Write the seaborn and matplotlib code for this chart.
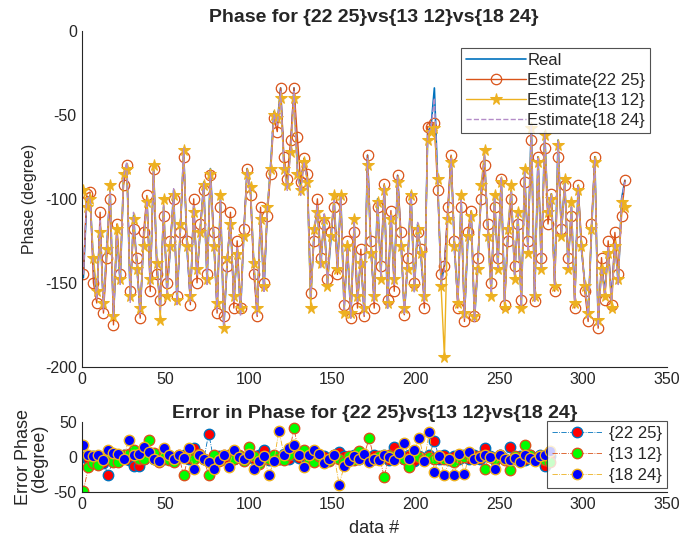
import numpy as np
import pandas as pd
import seaborn as sns
import matplotlib.pyplot as plt

# top panel: data index 1..325 (every other sample)
idx = list(range(1, 326, 2))

real = [-147, -101, -98, -140, -158, -115, -165, -128, -95, -172, -120, -150, -88, -79, -160, -110, -140, -168, -125, -100, -150, -83, -140, -165, -105, -155, -130, -95, -162, -118,
        -72, -130, -160, -105, -145, -118, -90, -150, -82, -125, -165, -100, -177, -138, -112, -160, -130, -168, -120, -82,
        -95, -140, -168, -110, -155, -108, -80, -48,
        -55, -34, -80, -90, -70, -34, -82, -92, -76, -88,
        -160, -120, -105, -140, -110, -150, -125, -100, -140, -98, -165, -130, -170, -115, -160, -135, -168, -74,
        -130, -160, -100, -145, -92, -165, -110, -150, -86, -125, -168, -140, -96, -155, -115, -135, -160, -60,
        -57, -34, -90, -150, -140, -110, -75, -130, -160, -100, -170, -125, -108, -172, -140, -95, -75,
        -120, -155, -100, -140, -88, -160, -120, -95, -145, -110, -163, -85, -130, -55, -160, -75, -140, -60, -110, -97, -150, -65, -120,
        -90, -140, -105, -160, -92, -130, -150, -170, -120, -75, -175, -140, -155, -130, -160, -125, -150, -100, -89]

est_22_25 = [-145, -97, -96, -150, -162, -108, -168, -135, -100, -175, -115, -145, -92, -80, -155, -118, -135, -171, -120, -98, -155, -82, -145, -160, -110, -150, -125, -100, -158, -120,
             -75, -125, -163, -100, -150, -115, -95, -145, -86, -120, -168, -105, -170, -140, -108, -165, -125, -165, -118, -82,
             -98, -145, -170, -105, -150, -110, -85, -52,
             -60, -34, -75, -88, -65, -34, -63, -90, -76, -85,
             -156, -125, -100, -135, -115, -148, -120, -105, -145, -100, -163, -125, -171, -120, -165, -130, -170, -74,
             -125, -165, -105, -140, -91, -160, -107, -155, -86, -120, -169, -135, -100, -150, -120, -130, -165, -57,
             -57, -55, -95, -145, -140, -105, -74, -125, -165, -105, -173, -120, -107, -170, -135, -100, -80,
             -115, -150, -105, -135, -88, -163, -125, -100, -140, -115, -160, -90, -125, -65, -161, -75, -135, -70, -115, -97, -155, -75, -118,
             -92, -135, -110, -165, -92, -125, -155, -173, -115, -75, -177, -135, -160, -125, -163, -120, -145, -110, -89]

est_13_12 = [-95, -105, -100, -135, -155, -120, -162, -130, -92, -170, -118, -148, -85, -82, -158, -112, -142, -165, -128, -102, -148, -80, -138, -172, -100, -158, -128, -98, -160, -115,
             -71, -128, -158, -108, -142, -120, -92, -148, -85, -128, -162, -98, -177, -135, -115, -158, -133, -165, -122, -85,
             -93, -138, -165, -112, -152, -105, -82, -50,
             -52, -40, -82, -92, -72, -40, -85, -95, -78, -90,
             -165, -118, -108, -138, -112, -152, -122, -98, -142, -98, -168, -128, -168, -112, -158, -138, -165, -80,
             -132, -158, -102, -148, -95, -162, -112, -148, -90, -128, -165, -142, -98, -152, -118, -132, -158, -65,
             -60, -58, -88, -152, -194, -112, -78, -128, -162, -98, -168, -122, -110, -170, -142, -92, -71,
             -122, -158, -98, -142, -90, -165, -118, -92, -148, -108, -165, -82, -132, -58, -158, -78, -142, -62, -108, -100, -152, -68, -122,
             -88, -142, -102, -162, -95, -128, -152, -168, -118, -78, -172, -142, -158, -132, -165, -128, -148, -102, -105]

est_18_24 = [-145, -100, -99, -142, -160, -113, -166, -126, -96, -170, -122, -151, -87, -78, -162, -108, -141, -169, -123, -101, -151, -84, -139, -166, -104, -156, -131, -94, -163, -117,
             -70, -131, -161, -104, -146, -117, -91, -151, -84, -124, -166, -101, -175, -137, -113, -161, -129, -170, -121, -83,
             -96, -141, -169, -109, -156, -107, -81, -50,
             -56, -36, -82, -95, -72, -36, -85, -98, -78, -90,
             -158, -121, -104, -141, -109, -151, -124, -101, -141, -99, -166, -129, -171, -114, -161, -134, -169, -76,
             -129, -161, -101, -146, -93, -166, -109, -151, -87, -124, -169, -139, -97, -156, -114, -136, -161, -61,
             -58, -40, -91, -151, -142, -109, -76, -131, -161, -101, -171, -124, -109, -173, -139, -96, -74,
             -121, -156, -99, -141, -87, -161, -119, -96, -146, -109, -164, -84, -131, -56, -161, -76, -141, -61, -109, -98, -151, -66, -121,
             -91, -141, -104, -161, -93, -131, -151, -171, -119, -76, -176, -141, -156, -129, -161, -126, -151, -101, -90]

# bottom panel: error samples
err_idx = list(range(1, 281, 3))

err_22_25 = [0, -3, 2, -2, -8, -26, 3, -2, 4, -4, -12, -12, -3, 2, -2, 4, -3, 2, -4, 2,
             3, -2, 13, 3, -3, 34, -4, 2, -2, 3, -3, 2, -4, 3, -2, 3, 10, -4, 2, -3,
             5, -2, 3, -1, 2, -3, 3, -2, 2, -4, 3, 8, 2, -3, 3, -2, 2, -3, 4, -2,
             3, -4, 15, 2, -3, 3, -5, 2, -3, 4, 23, -2, 3, -4, 2, -3, 3, -2, 4, -3,
             13, 2, -4, 3, -2, 15, -3, 2, -4, 3, -2, 3, -12, 2]

err_13_12 = [-48, -14, -8, -11, -3, 2, -6, -6, 3, 5, 10, -2, -2, 25, 6, -7, 2, -4, -7, 3,
             -26, 4, -2, 5, -3, -25, 4, -5, 3, 3, -2, 4, -5, 15, 2, -9, 0, -2, 4, -2,
             -4, 3, 42, 4, 10, -4, -7, 2, -7, -5, 3, -3, -6, 2, -4, 9, 4, 27, -3, 2,
             -28, 4, 2, 3, -3, -14, 2, 0, -3, 0, -2, 2, -2, -3, -6, 0, 0, 3, -2, 2,
             -16, 1, -2, 3, -4, -18, 2, -3, 17, 3, -2, 2, -4, -6]

err_18_24 = [18, 3, 2, 3, -4, 10, 6, 5, -3, 25, 4, 5, 15, 8, -2, -5, 13, 4, -3, 3,
             -1, 14, -17, 3, -2, -6, -16, -4, 3, -14, 10, 1, -2, 5, -17, -5, 2, -26, -5, 38,
             4, 13, 18, 3, -14, 4, 10, 5, -8, -3, 3, -39, -13, -5, 2, -2, 5, -7, -2, -4,
             3, 0, -4, 6, 20, -3, 10, 27, -5, 36, -21, 2, -26, -3, -25, 5, -24, 8, -2, 0,
             3, 0, -16, 4, -2, -4, -1, -6, 3, -1, -5, 2, 4, 9]

top = pd.DataFrame({"idx": idx, "real": real, "e1": est_22_25, "e2": est_13_12, "e3": est_18_24})
bot = pd.DataFrame({"idx": err_idx, "a": err_22_25, "b": err_13_12, "c": err_18_24})

sns.set_style("white")
plt.rcParams['font.family'] = ['Liberation Sans', 'DejaVu Sans']
plt.rcParams['axes.unicode_minus'] = False
plt.rcParams['xtick.direction'] = 'in'
plt.rcParams['ytick.direction'] = 'in'

fig = plt.figure(figsize=(6.81, 5.5), dpi=100)
ax1 = fig.add_axes([0.120, 0.333, 0.859, 0.611])
ax2 = fig.add_axes([0.120, 0.105, 0.859, 0.127])

blue, orange, yellow, purple = "#0072BD", "#D95319", "#EDB120", "#B48CC8"

sns.lineplot(data=top, x="idx", y="real", ax=ax1, color=blue, lw=1.2, estimator=None, label="Real")
sns.lineplot(data=top, x="idx", y="e1", ax=ax1, color=orange, lw=1.0, estimator=None, marker="o",
             markersize=7.5, markerfacecolor="none", markeredgecolor=orange, markeredgewidth=0.9,
             label="Estimate{22 25}")
sns.lineplot(data=top, x="idx", y="e2", ax=ax1, color=yellow, lw=1.0, estimator=None, marker="*",
             markersize=8.5, markeredgecolor=yellow, markerfacecolor=yellow, label="Estimate{13 12}")
sns.lineplot(data=top, x="idx", y="e3", ax=ax1, color=purple, lw=1.0, estimator=None, linestyle="--",
             label="Estimate{18 24}")

ax1.set_xlim(0, 350)
ax1.set_ylim(-200, 0)
ax1.set_xticks(range(0, 351, 50))
ax1.set_yticks(range(-200, 1, 50))
ax1.set_xlabel("")
ax1.set_ylabel("Phase (degree)", fontsize=11.5, labelpad=6)
ax1.set_title("Phase for {22 25}vs{13 12}vs{18 24}", fontsize=14, fontweight="bold", pad=6)
leg1 = ax1.legend(loc="upper right", bbox_to_anchor=(0.972, 0.95), fontsize=12, frameon=True,
                  fancybox=False, handlelength=3.6, handletextpad=0.1, borderpad=0.3,
                  labelspacing=0.3, borderaxespad=0)
leg1.get_frame().set_edgecolor("#262626")
leg1.get_frame().set_linewidth(0.8)

face = ["#FF0000", "#00FF00", "#0000FF"]
edge = [blue, orange, yellow]
labels = ["{22 25}", "{13 12}", "{18 24}"]
for col, fc, ec, lab in zip(["a", "b", "c"], face, edge, labels):
    sns.lineplot(data=bot, x="idx", y=col, ax=ax2, color=ec, lw=0.6, linestyle="-.", estimator=None,
                 marker="o", markersize=7.5, markerfacecolor=fc, markeredgecolor=ec, markeredgewidth=1.0,
                 label=lab)

ax2.set_xlim(0, 350)
ax2.set_ylim(-50, 50)
ax2.set_xticks(range(0, 351, 50))
ax2.set_yticks([-50, 0, 50])
ax2.set_xlabel("data #", fontsize=13, labelpad=6)
ax2.set_ylabel("Error Phase\n(degree)", fontsize=13, linespacing=0.95)
ax2.set_title("Error in Phase for {22 25}vs{13 12}vs{18 24}", fontsize=14, fontweight="bold", pad=3)
leg2 = ax2.legend(loc="upper right", bbox_to_anchor=(1.0, 1.02), fontsize=12, frameon=True,
                  fancybox=False, handlelength=3.0, handletextpad=0.4, borderpad=0.3,
                  labelspacing=0.35, borderaxespad=0)
leg2.get_frame().set_edgecolor("#262626")
leg2.get_frame().set_linewidth(0.8)

for ax in (ax1, ax2):
    sns.despine(ax=ax)
    ax.tick_params(labelsize=11.5, colors="#262626", length=3, width=0.6)
    for s in ("left", "bottom"):
        ax.spines[s].set_color("#262626")
        ax.spines[s].set_linewidth(0.8)

fig.savefig("out.png", dpi=100)
